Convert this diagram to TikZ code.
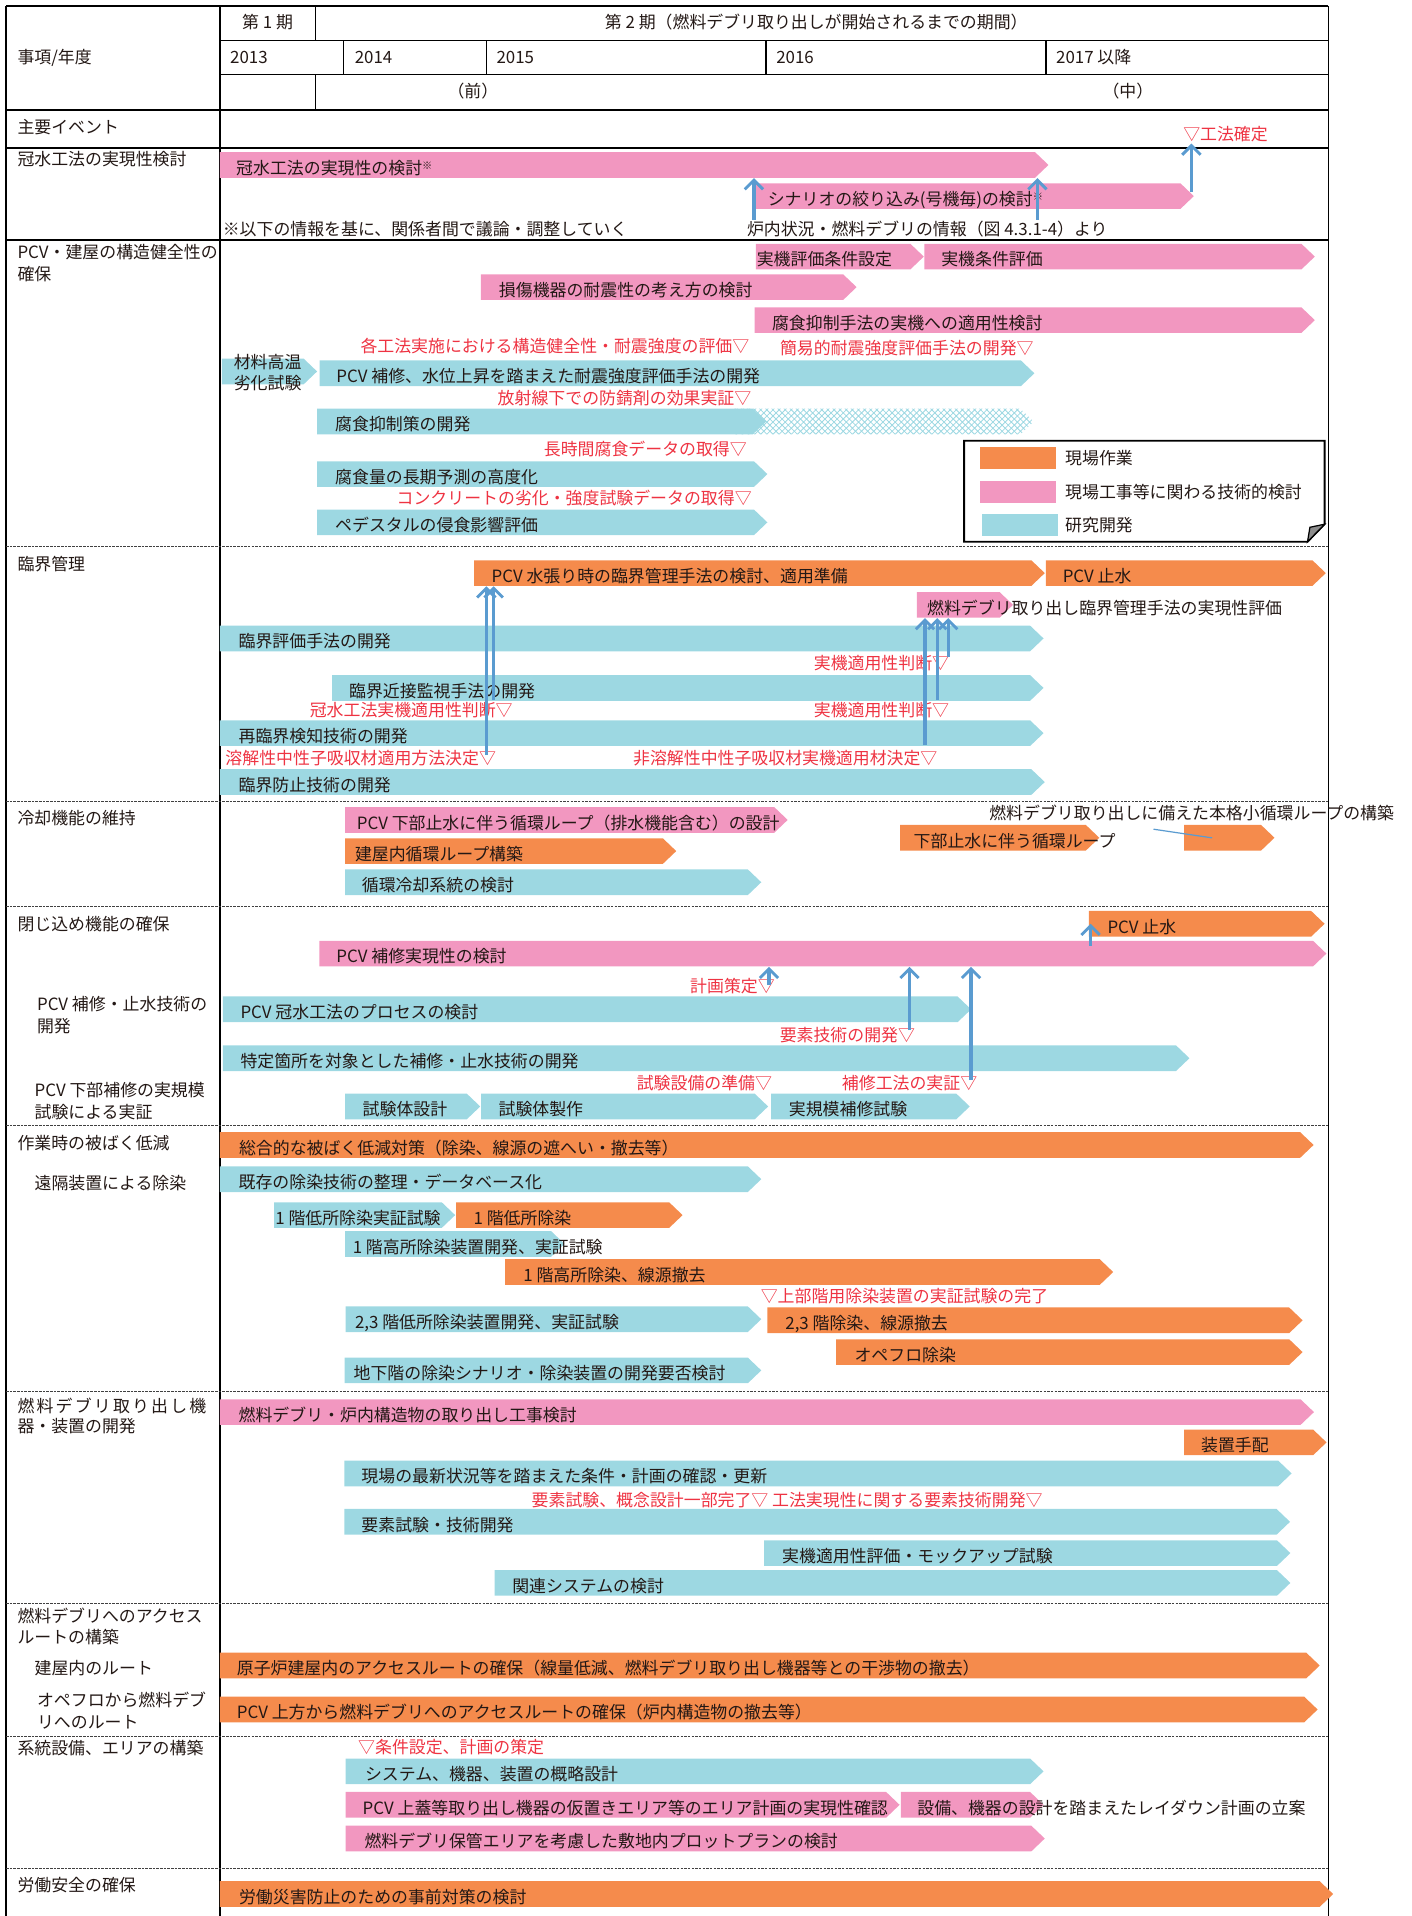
\documentclass[tikz,border=0pt]{standalone}
\usepackage{fontspec}
\setmainfont{Noto Sans CJK JP}
\usetikzlibrary{arrows.meta, patterns}
\definecolor{sitec}{HTML}{F58B4C}
\definecolor{techc}{HTML}{F297C0}
\definecolor{resc}{HTML}{9DD8E2}
\definecolor{milec}{HTML}{EE3342}
\definecolor{arrc}{HTML}{5A9BD0}
\definecolor{txtc}{HTML}{231815}

% bar with pointed end: name, colour, x start, x tip, y centre, label x, label
\newcommand{\gbar}[7]{%
  \fill[#2] (#3,#5-10.5) -- (#4-11,#5-10.5) -- (#4,#5) -- (#4-11,#5+10.5) -- (#3,#5+10.5) -- cycle;
  \node[barbox, minimum width={(#4-#3)*0.6pt}] (#1) at (#3,#5) {};
  \node[bartxt] (#1-t) at (#6,#5+3) {#7};
}
\newcommand{\kome}{\raisebox{2.5pt}{\fontsize{5pt}{5pt}\selectfont ※}}

\begin{document}
\begin{tikzpicture}[x=0.6pt, y=-0.6pt,
    every node/.style={inner sep=0pt, text=txtc,
      font=\fontsize{8.3pt}{10pt}\selectfont, text height=6.8pt, text depth=1.2pt},
    barbox/.style={anchor=west, minimum height=12.6pt},
    bartxt/.style={anchor=west},
    lbl/.style={anchor=west},
    mile/.style={anchor=west, text=milec},
    swatch/.style={minimum width=37.2pt, minimum height=10.8pt},
    grid/.style={line width=0.7pt, draw=black},
    sep/.style={line width=0.5pt, draw=black!75, dash pattern=on 1.2pt off 0.6pt},
    uparr/.style={draw=arrc, line width=1.6pt,
      -{Straight Barb[length=4.5pt, width=9pt, line width=1.4pt]}},
    callout/.style={draw=arrc, line width=0.6pt}]
  \useasboundingbox (0,0) rectangle (1155,1568);

  % frame and header grid
  \draw[grid] (5,5) -- (1087,5);
  \draw[grid] (180,33) -- (1087,33);
  \draw[grid] (180,61) -- (1087,61);
  \draw[grid] (5,90) -- (1087,90);
  \draw[grid] (5,121) -- (1087,121);
  \draw[grid] (5,196.5) -- (1087,196.5);
  \draw[grid] (5,5) -- (5,1568);
  \draw[grid] (180,5) -- (180,1568);
  \draw[grid] (1087,5) -- (1087,1568);
  \draw[grid] (258,5) -- (258,33);
  \draw[grid] (258,61) -- (258,90);
  \foreach \xx in {281,398,627,856}
    \draw[grid] (\xx,33) -- (\xx,61);
  % section separators
  \foreach \yy in {447,656,742,921,1139,1312.5,1421,1529}
    \draw[sep] (5,\yy) -- (1087,\yy);

  % header texts
  \node[lbl] (item) at (14,47) {事項/年度};
  \node (ki1) at (219,19) {第 1 期};
  \node (ki2) at (668,19) {第 2 期（燃料デブリ取り出しが開始されるまでの期間）};
  \node[lbl] (y13) at (188,47) {2013};
  \node[lbl] (y14) at (290,47) {2014};
  \node[lbl] (y15) at (406,47) {2015};
  \node[lbl] (y16) at (635,47) {2016};
  \node[lbl] (y17) at (864,47) {2017 以降};
  \node (mae) at (387,75) {（前）};
  \node (naka) at (923,75) {（中）};
  \node[lbl] (event) at (14,105) {主要イベント};
  \node[mile] (kotei) at (968,110.5) {▽工法確定};

  % left column
  \node[lbl] (s1) at (14,131) {冠水工法の実現性検討};
  \node[lbl] (s2a) at (14,207) {PCV・建屋の構造健全性の};
  \node[lbl] (s2b) at (14,225) {確保};
  \node[lbl] (s3) at (14,462) {臨界管理};
  \node[lbl] (s4) at (14,670) {冷却機能の維持};
  \node[lbl] (s5) at (14,757) {閉じ込め機能の確保};
  \node[lbl] (s5a) at (30,822) {PCV 補修・止水技術の};
  \node[lbl] (s5b) at (30,840) {開発};
  \node[lbl] (s5c) at (28,893) {PCV 下部補修の実規模};
  \node[lbl] (s5d) at (28,911) {試験による実証};
  \node[lbl] (s6) at (14,936) {作業時の被ばく低減};
  \node[lbl] (s6a) at (28,969) {遠隔装置による除染};
  \node[lbl] (s7a) at (14,1151) {\addfontfeatures{LetterSpace=13}燃料デブリ取り出し機};
  \node[lbl] (s7b) at (14,1168) {器・装置の開発};
  \node[lbl] (s8a) at (14,1323) {燃料デブリへのアクセス};
  \node[lbl] (s8b) at (14,1340.5) {ルートの構築};
  \node[lbl] (s8c) at (28,1366) {建屋内のルート};
  \node[lbl] (s8d) at (30,1392) {オペフロから燃料デブ};
  \node[lbl] (s8e) at (30,1410) {リへのルート};
  \node[lbl] (s9) at (14,1431) {系統設備、エリアの構築};
  \node[lbl] (s10) at (14,1543) {労働安全の確保};

  % flooding method
  \gbar{kansui}{techc}{180}{858}{135}{193}{冠水工法の実現性の検討\kome}
  \gbar{scenario}{techc}{617}{977}{160.5}{628}{シナリオの絞り込み(号機毎)の検討\kome}
  \node[lbl] (n1) at (182,188) {※以下の情報を基に、関係者間で議論・調整していく};
  \node[lbl] (n2) at (611,188) {炉内状況・燃料デブリの情報（図 4.3.1-4）より};

  % structural integrity
  \gbar{jikihyoka}{techc}{618.5}{756}{210}{619}{実機評価条件設定}
  \gbar{jikijoken}{techc}{756.5}{1076}{210}{770}{実機条件評価}
  \gbar{sonsho}{techc}{393.5}{701}{235}{408}{損傷機器の耐震性の考え方の検討}
  \gbar{yokusei}{techc}{617.5}{1076}{262}{631.5}{腐食抑制手法の実機への適用性検討}
  \node[mile] (m1) at (294.7,284) {各工法実施における構造健全性・耐震強度の評価▽};
  \node[mile] (m2) at (638,285.7) {簡易的耐震強度評価手法の開発▽};
  \gbar{zairyo}{resc}{181.5}{259.5}{304}{191}{}
  \node[lbl] (zai1) at (191,297) {材料高温};
  \node[lbl] (zai2) at (191,314) {劣化試験};
  \gbar{taishin}{resc}{261.5}{846.5}{305.5}{275}{PCV 補修、水位上昇を踏まえた耐震強度評価手法の開発}
  \node[mile] (m3) at (407,326) {放射線下での防錆剤の効果実証▽};
  \path[pattern=crosshatch, pattern color=resc] (600,334.5) -- (835,334.5) -- (846,345)
    -- (835,355.5) -- (600,355.5) -- cycle;
  \gbar{fushoku}{resc}{259.5}{627}{345}{274}{腐食抑制策の開発}
  \node[mile] (m4) at (444.8,368.4) {長時間腐食データの取得▽};
  \gbar{yosoku}{resc}{259.5}{628}{388}{274}{腐食量の長期予測の高度化}
  \node[mile] (m5) at (324.3,408) {コンクリートの劣化・強度試験データの取得▽};
  \gbar{pedestal}{resc}{259.5}{628}{427.5}{274}{ペデスタルの侵食影響評価}

  % legend
  \draw[line width=0.9pt] (789,360.7) -- (1084,360.7) -- (1084,429) -- (1070,443.4)
    -- (789,443.4) -- cycle;
  \filldraw[fill=black!45, line width=0.6pt] (1070,443.4) -- (1084,429) -- (1072,431.5) -- cycle;
  \node[swatch, fill=sitec] (lg1) at (833,374.8) {};
  \node[swatch, fill=techc] (lg2) at (833,402.4) {};
  \node[swatch, fill=resc] (lg3) at (834.5,429.8) {};
  \node[lbl] (lg1-t) at (871.4,375.2) {現場作業};
  \node[lbl] (lg2-t) at (871.4,403) {現場工事等に関わる技術的検討};
  \node[lbl] (lg3-t) at (871.4,430.6) {研究開発};

  % criticality
  \gbar{mizuhari}{sitec}{388}{855}{469}{402}{PCV 水張り時の臨界管理手法の検討、適用準備}
  \gbar{shisui1}{sitec}{856}{1085}{469}{869.4}{PCV 止水}
  \gbar{kanri}{techc}{750.3}{829}{495}{758.4}{燃料デブリ取り出し臨界管理手法の実現性評価}
  \gbar{hyoka}{resc}{180}{854}{522.5}{195}{臨界評価手法の開発}
  \node[mile] (m6) at (665.7,543) {実機適用性判断▽};
  \gbar{kinsetsu}{resc}{271.7}{854}{563}{285.4}{臨界近接監視手法の開発}
  \node[mile] (m7) at (253.2,581.8) {冠水工法実機適用性判断▽};
  \node[mile] (m8) at (665.7,581.5) {実機適用性判断▽};
  \gbar{sairinkai}{resc}{180}{854}{600}{195}{再臨界検知技術の開発}
  \node[mile] (m9) at (184.2,620.8) {溶解性中性子吸収材適用方法決定▽};
  \node[mile] (m10) at (517.8,620.8) {非溶解性中性子吸収材実機適用材決定▽};
  \gbar{boshi}{resc}{180}{855}{640}{195}{臨界防止技術の開発}
  \coordinate (r1) at (398,618);
  \coordinate (r2) at (404,573);
  \coordinate (r3) at (757,610);
  \coordinate (r4) at (767,573);
  \coordinate (r5) at (776,538);
  \draw[uparr] (r1) -- (r1 |- mizuhari.south);
  \draw[uparr] (r2) -- (r2 |- mizuhari.south);
  \draw[uparr] (r3) -- (r3 |- kanri.south);
  \draw[uparr] (r4) -- (r4 |- kanri.south);
  \draw[uparr] (r5) -- (r5 |- kanri.south);

  % cooling
  \gbar{loop}{techc}{282.4}{644.6}{671}{291.7}{PCV 下部止水に伴う循環ループ（排水機能含む）の設計}
  \gbar{tateya}{sitec}{282.4}{553.4}{696.5}{290.2}{建屋内循環ループ構築}
  \gbar{junkan}{resc}{282.4}{623}{722}{295.8}{循環冷却系統の検討}
  \gbar{kabu}{sitec}{736.7}{899.6}{685.6}{747.4}{下部止水に伴う循環ループ}
  \gbar{honkaku}{sitec}{969}{1043}{685.6}{969}{}
  \node[lbl] (n3) at (809.3,666.3) {燃料デブリ取り出しに備えた本格小循環ループの構築};
  \coordinate (c1) at (944,678.6);
  \coordinate (c2) at (992,685.7);
  \draw[callout] (c1) -- (c2);

  % confinement
  \gbar{shisui2}{sitec}{891}{1084}{756}{906}{PCV 止水}
  \gbar{hoshu}{techc}{261.3}{1085.5}{780.4}{275}{PCV 補修実現性の検討}
  \node[mile] (m11) at (564.5,807.7) {計画策定▽};
  \gbar{process}{resc}{182.4}{794.7}{826}{196.5}{PCV 冠水工法のプロセスの検討}
  \node[mile] (m12) at (637.8,848) {要素技術の開発▽};
  \gbar{tokutei}{resc}{182.4}{973.4}{866}{196.5}{特定箇所を対象とした補修・止水技術の開発}
  \node[mile] (m13) at (520.8,886.8) {試験設備の準備▽};
  \node[mile] (m14) at (688.7,886.8) {補修工法の実証▽};
  \gbar{sekkei}{resc}{282.4}{393}{905.5}{296.5}{試験体設計}
  \gbar{seisaku}{resc}{393.7}{628.6}{905.5}{407.7}{試験体製作}
  \gbar{jikibo}{resc}{631}{793.6}{905.5}{645.3}{実規模補修試験}
  \coordinate (t0) at (892.5,774);
  \coordinate (t1) at (629.3,806);
  \coordinate (t2) at (744.3,843);
  \coordinate (t3) at (794.7,884);
  \draw[uparr] (t0) -- (t0 |- shisui2.center);
  \draw[uparr] (t1) -- (t1 |- hoshu.south);
  \draw[uparr] (t2) -- (t2 |- hoshu.south);
  \draw[uparr] (t3) -- (t3 |- hoshu.south);

  % exposure reduction
  \gbar{sogo}{sitec}{180}{1075}{937}{195.3}{総合的な被ばく低減対策（除染、線源の遮へい・撤去等）}
  \gbar{kizon}{resc}{180}{623}{965}{195}{既存の除染技術の整理・データベース化}
  \gbar{teishiken}{resc}{224.3}{372.5}{994.4}{225}{1 階低所除染実証試験}
  \gbar{tei}{sitec}{373.3}{558.6}{994.4}{387.3}{1 階低所除染}
  \gbar{kodev}{resc}{282.4}{462}{1018}{288.4}{1 階高所除染装置開発、実証試験}
  \gbar{ko}{sitec}{413.3}{911}{1041}{428}{1 階高所除染、線源撤去}
  \node[mile] (m15) at (622.3,1061.5) {▽上部階用除染装置の実証試験の完了};
  \gbar{teidev}{resc}{282.8}{623}{1079.6}{290.2}{2,3 階低所除染装置開発、実証試験}
  \gbar{jo}{sitec}{628}{1066}{1080.5}{642.4}{2,3 階除染、線源撤去}
  \gbar{opefuro}{sitec}{684.3}{1066}{1106.5}{699}{オペフロ除染}
  \gbar{chika}{resc}{282}{623}{1121.5}{289.1}{地下階の除染シナリオ・除染装置の開発要否検討}

  % retrieval equipment
  \gbar{koji}{techc}{180}{1075.3}{1155.6}{195}{燃料デブリ・炉内構造物の取り出し工事検討}
  \gbar{tehai}{sitec}{969}{1085.6}{1180.4}{982.6}{装置手配}
  \gbar{saishin}{resc}{281.8}{1057}{1205.8}{295.5}{現場の最新状況等を踏まえた条件・計画の確認・更新}
  \node[mile] (m16) at (434.8,1228) {要素試験、概念設計一部完了▽ 工法実現性に関する要素技術開発▽};
  \gbar{yoso}{resc}{281.8}{1055.7}{1245.4}{295.5}{要素試験・技術開発}
  \gbar{mockup}{resc}{625.3}{1056}{1271}{639.8}{実機適用性評価・モックアップ試験}
  \gbar{kanren}{resc}{404.8}{1056}{1295.4}{418.9}{関連システムの検討}

  % access route
  \gbar{route}{sitec}{180}{1080}{1363}{193.5}{原子炉建屋内のアクセスルートの確保（線量低減、燃料デブリ取り出し機器等との干渉物の撤去）}
  \gbar{joho}{sitec}{180}{1078.3}{1399}{193.5}{PCV 上方から燃料デブリへのアクセスルートの確保（炉内構造物の撤去等）}

  % systems and areas
  \node[mile] (m17) at (292.8,1430.6) {▽条件設定、計画の策定};
  \gbar{gairyaku}{resc}{282.8}{854}{1449.6}{298.4}{システム、機器、装置の概略設計}
  \gbar{karioki}{techc}{282.8}{736.2}{1477}{296.5}{PCV 上蓋等取り出し機器の仮置きエリア等のエリア計画の実現性確認}
  \gbar{laydown}{techc}{737.3}{854}{1477}{750.4}{設備、機器の設計を踏まえたレイダウン計画の立案}
  \gbar{plot}{techc}{282.8}{855}{1504.6}{298}{燃料デブリ保管エリアを考慮した敷地内プロットプランの検討}

  % safety
  \gbar{rodo}{sitec}{180}{1091}{1550}{195.3}{労働災害防止のための事前対策の検討}

  % flooding arrows
  \coordinate (k1) at (617,180);
  \coordinate (k2) at (849,180);
  \coordinate (k3) at (975,157);
  \draw[uparr] (k1) -- (k1 |- kansui.south);
  \draw[uparr] (k2) -- (k2 |- kansui.south);
  \draw[uparr] (k3) -- (k3 |- kotei.south);
\end{tikzpicture}
\end{document}
